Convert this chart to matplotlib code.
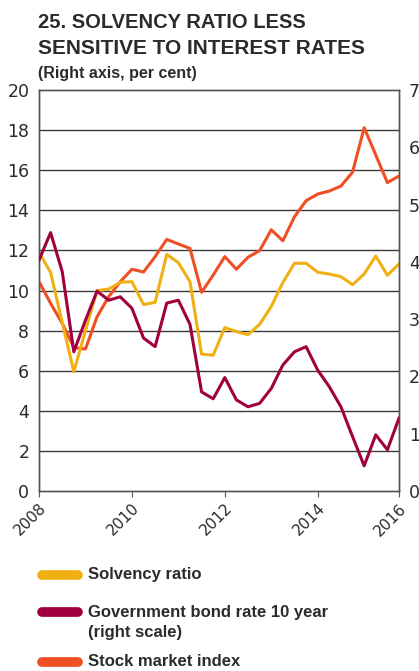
import numpy as np
import matplotlib
matplotlib.use('Agg')
import matplotlib.pyplot as plt
from matplotlib import font_manager
from matplotlib.lines import Line2D

# quarterly data, 2008Q1 - 2015Q4
quarters = np.arange(32)
solvency = [11.9, 10.9, 8.4, 5.95, 8.0, 9.99, 10.07, 10.41, 10.44, 9.3,
            9.41, 11.8, 11.39, 10.44, 6.83, 6.77, 8.15, 7.95, 7.8, 8.31,
            9.2, 10.4, 11.36, 11.36, 10.91, 10.82, 10.69, 10.29, 10.82, 11.72,
            10.76, 11.32]
stocks = [10.44, 9.36, 8.36, 7.15, 7.08, 8.69, 9.69, 10.44, 11.06, 10.92,
          11.69, 12.55, 12.32, 12.1, 9.91, 10.77, 11.69, 11.06, 11.66, 11.99,
          13.03, 12.48, 13.68, 14.48, 14.81, 14.96, 15.21, 15.9, 18.12, 16.76,
          15.38, 15.71]
bond_rate = [4.03, 4.51, 3.83, 2.43, 2.98, 3.49, 3.33, 3.39, 3.19, 2.67,
             2.52, 3.28, 3.33, 2.91, 1.73, 1.61, 1.98, 1.59, 1.47, 1.53,
             1.79, 2.2, 2.43, 2.52, 2.11, 1.82, 1.47, 0.95, 0.44, 0.98,
             0.72, 1.27]
year_ticks = [0, 8, 16, 24, 31]
year_labels = ['2008', '2010', '2012', '2014', '2016']

YELLOW = '#F0B014'
CRIMSON = '#A0003E'
ORANGE = '#F04E23'
TXT = '#2b2b2b'

names = {f.name for f in font_manager.fontManager.ttflist}
title_font = 'Liberation Sans Narrow' if 'Liberation Sans Narrow' in names else 'Liberation Sans'

fig = plt.figure(figsize=(4.19, 6.71), dpi=100)
ax = fig.add_axes([39/419, 1 - 491/671, 360/419, 401/671])

ax.plot(quarters, stocks, color=ORANGE, lw=2.2, zorder=3)
ax.plot(quarters, solvency, color=YELLOW, lw=2.2, zorder=4)
ax.set_xlim(0, 31)
ax.set_ylim(0, 20)
ax.set_yticks(np.arange(0, 21, 2))
for v in range(2, 20, 2):
    ax.axhline(v, color='#3a3a3a', lw=1.0, zorder=1)
ax.tick_params(axis='y', length=0, pad=7, labelsize=12.5, labelcolor=TXT)
ax.set_xticks(year_ticks)
ax.set_xticklabels(year_labels, rotation=45, ha='right', va='top',
                   rotation_mode='anchor', fontsize=11, color=TXT)
ax.tick_params(axis='x', length=4, color='#555', pad=3)
for s in ax.spines.values():
    s.set_color('#555')
    s.set_linewidth(1.0)

ax2 = ax.twinx()
ax2.plot(quarters, bond_rate, color=CRIMSON, lw=2.2, zorder=5)
ax2.set_ylim(0, 7)
ax2.set_yticks(range(0, 8))
ax2.tick_params(axis='y', length=0, pad=7, labelsize=12.5, labelcolor=TXT)
for s in ax2.spines.values():
    s.set_color('#555')
    s.set_linewidth(1.0)

# title
fig.text(38/419, 1 - 28/671, '25. SOLVENCY RATIO LESS', family=title_font,
         weight='bold', fontsize=14.5, color=TXT, va='baseline')
fig.text(38/419, 1 - 54/671, 'SENSITIVE TO INTEREST RATES', family=title_font,
         weight='bold', fontsize=15, color=TXT, va='baseline')
fig.text(38/419, 1 - 78/671, '(Right axis, per cent)', family=title_font,
         weight='bold', fontsize=11.5, color=TXT, va='baseline')

# legend
legend_items = [(YELLOW, 'Solvency ratio', 575),
                (CRIMSON, 'Government bond rate 10 year', 612),
                (ORANGE, 'Stock market index', 662)]
for col, lab, ypx in legend_items:
    yf = 1 - ypx/671
    fig.add_artist(Line2D([42/419, 78/419], [yf, yf], color=col, lw=7,
                          solid_capstyle='round', transform=fig.transFigure))
    fig.text(88/419, yf, lab, family=title_font, weight='bold', fontsize=12,
             color=TXT, va='center')
fig.text(88/419, 1 - 632/671, '(right scale)', family=title_font, weight='bold',
         fontsize=12, color=TXT, va='center')

fig.savefig('out.png', dpi=100)
